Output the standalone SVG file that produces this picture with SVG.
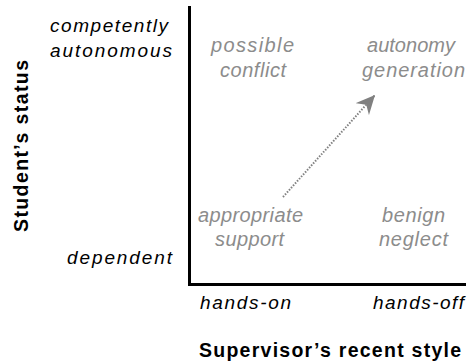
<svg xmlns="http://www.w3.org/2000/svg" width="468" height="364" viewBox="0 0 468 364">
<style>
.lab{font-family:"Liberation Sans",Arial,sans-serif;font-style:italic;font-size:19px;fill:#000}
.q{font-family:"Liberation Sans",Arial,sans-serif;font-style:italic;font-size:20px;fill:#8c8c8c}
.ax{font-family:"Liberation Sans",Arial,sans-serif;font-weight:bold;font-size:19.5px;fill:#000}
.axis{stroke:#000;stroke-width:3;fill:none}
.flow{stroke:#808080;stroke-width:2;stroke-dasharray:1.5 1.5;fill:none}
</style>
<defs>
<marker id="head" markerUnits="userSpaceOnUse" markerWidth="20" markerHeight="18" viewBox="0 0 20 18" refX="19" refY="9" orient="auto">
<path d="M19,9 L0,0 L6,9 L0,18 Z" fill="#808080"/>
</marker>
</defs>
<g id="axes">
<line class="axis" x1="189.5" y1="6" x2="189.5" y2="284.5"/>
<line class="axis" x1="188" y1="284.5" x2="466" y2="284.5"/>
</g>
<g id="connectors">
<line class="flow" x1="283" y1="197" x2="375" y2="95" marker-end="url(#head)"/>
</g>
<g id="y-label"><text class="ax" transform="translate(28,232) rotate(-90)" x="0" y="0" textLength="172" lengthAdjust="spacing">Student’s status</text></g>
<g id="x-label"><text class="ax" x="199" y="357" textLength="262" lengthAdjust="spacing">Supervisor’s recent style</text></g>
<g id="y-high"><text class="lab" x="50" y="32" textLength="118" lengthAdjust="spacing">competently</text><text class="lab" x="50" y="57" textLength="122" lengthAdjust="spacing">autonomous</text></g>
<g id="y-low"><text class="lab" x="67" y="264" textLength="105" lengthAdjust="spacing">dependent</text></g>
<g id="x-low"><text class="lab" x="200" y="309" textLength="91" lengthAdjust="spacing">hands-on</text></g>
<g id="x-high"><text class="lab" x="373" y="309" textLength="91" lengthAdjust="spacing">hands-off</text></g>
<g id="possible-conflict"><text class="q" x="211" y="52" textLength="83" lengthAdjust="spacing">possible</text><text class="q" x="220" y="77" textLength="66" lengthAdjust="spacing">conflict</text></g>
<g id="autonomy-generation"><text class="q" x="367" y="52" textLength="88" lengthAdjust="spacing">autonomy</text><text class="q" x="362" y="77" textLength="103" lengthAdjust="spacing">generation</text></g>
<g id="appropriate-support"><text class="q" x="198" y="222" textLength="105" lengthAdjust="spacing">appropriate</text><text class="q" x="215" y="246" textLength="69" lengthAdjust="spacing">support</text></g>
<g id="benign-neglect"><text class="q" x="382" y="222" textLength="63" lengthAdjust="spacing">benign</text><text class="q" x="379" y="246" textLength="69" lengthAdjust="spacing">neglect</text></g>
</svg>
